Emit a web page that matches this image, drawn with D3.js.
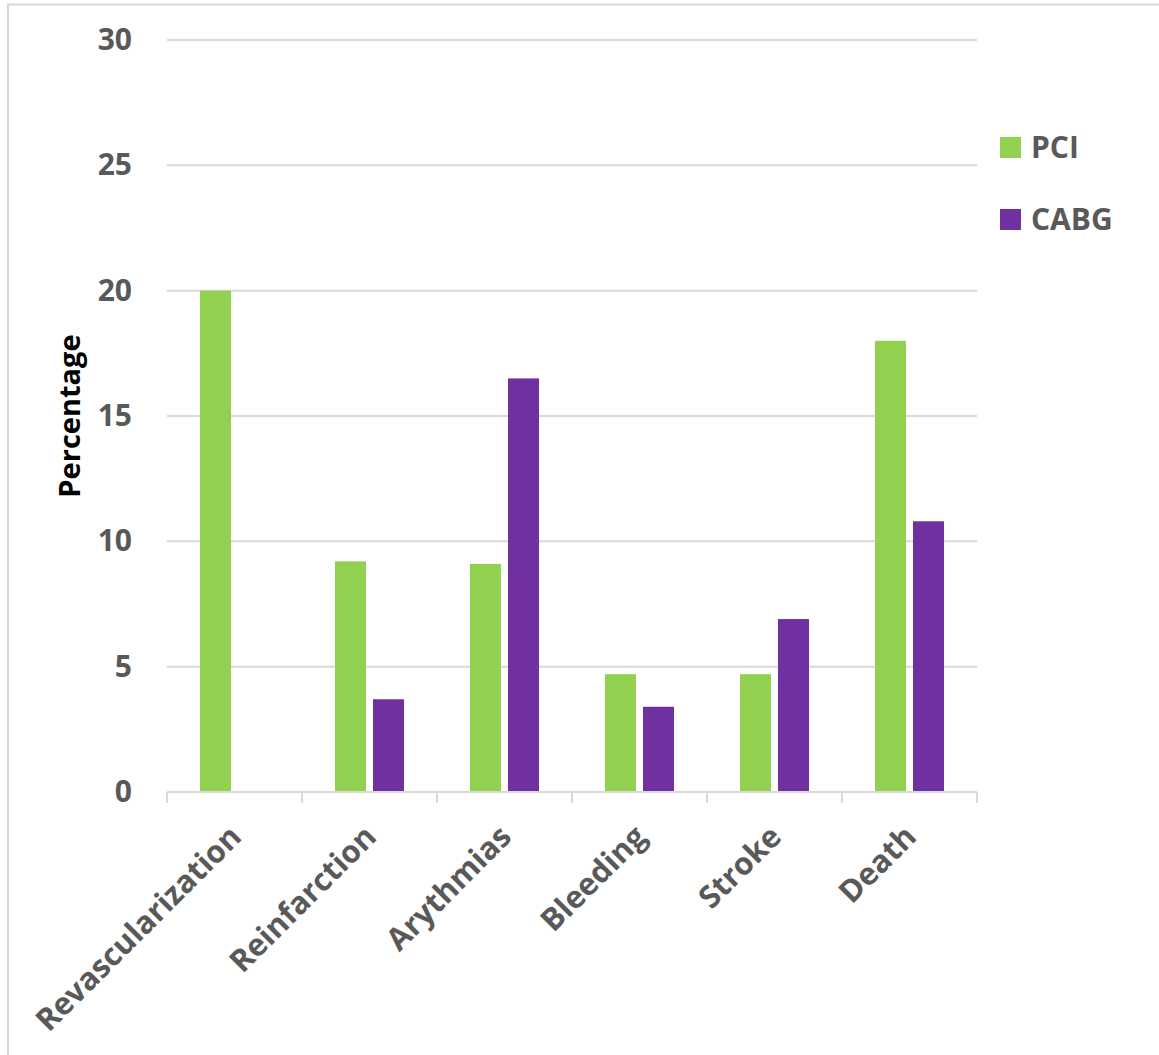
<!DOCTYPE html>
<html><head><meta charset="utf-8">
<script src="https://cdn.jsdelivr.net/npm/d3@7"></script>
<style>html,body{margin:0;padding:0;background:#fff;}</style>
</head><body>
<script>
const categories = ["Revascularization","Reinfarction","Arythmias","Bleeding","Stroke","Death"];
const seriesNames = ["PCI","CABG"];
const pciValues = [20, 9.2, 9.1, 4.7, 4.7, 18];
const cabgValues = [null, 3.7, 16.5, 3.4, 6.9, 10.8];
const yTicks = [0,5,10,15,20,25,30];
const colors = ["#92d050","#7030a0"];

(function(){
const W = 1159, H = 1055;
const pLeft = 167, pRight = 977, pTop = 40, pBottom = 792;
const txt = "#595959", font = "'Open Sans', sans-serif";

const svg = d3.select("body").append("svg").attr("width", W).attr("height", H);

// frame lines (top and left)
svg.append("line").attr("x1",7).attr("x2",W).attr("y1",4.5).attr("y2",4.5).attr("stroke","#d9d9d9").attr("stroke-width",2);
svg.append("line").attr("x1",8).attr("x2",8).attr("y1",4).attr("y2",H).attr("stroke","#d9d9d9").attr("stroke-width",2);

const x = d3.scaleBand().domain(categories).range([pLeft, pRight]).paddingInner(0).paddingOuter(0);
const x1 = d3.scaleBand().domain(seriesNames).range([0, x.bandwidth()]).paddingInner(0.184).paddingOuter(0.868);
const y = d3.scaleLinear().domain([0,30]).range([pBottom, pTop]);

// gridlines
svg.append("g").selectAll("line").data(yTicks.filter(d=>d>0)).join("line")
  .attr("x1",pLeft).attr("x2",pRight).attr("y1",d=>y(d)).attr("y2",d=>y(d))
  .attr("stroke","#d9d9d9").attr("stroke-width",2);

// y axis labels
const yAxis = d3.axisLeft(y).tickValues(yTicks).tickSize(0).tickPadding(35);
const yg = svg.append("g").attr("transform",`translate(${pLeft},0)`).call(yAxis);
yg.select(".domain").remove();
yg.selectAll("text").attr("fill",txt).attr("font-family",font).attr("font-weight","bold").attr("font-size",30);

// bars
const data = categories.map((c,i)=>({c, vals:[pciValues[i], cabgValues[i]]}));
const groups = svg.append("g").selectAll("g").data(data).join("g")
  .attr("transform", d=>`translate(${x(d.c)},0)`);
groups.selectAll("rect").data(d=>d.vals.map((v,j)=>({s:seriesNames[j], v, j})).filter(d=>d.v!=null))
  .join("rect")
  .attr("x", d=>x1(d.s)).attr("width", x1.bandwidth())
  .attr("y", d=>y(d.v)).attr("height", d=>y(0)-y(d.v))
  .attr("fill", d=>colors[d.j]);

// x axis
const xAxis = d3.axisBottom(x).tickSize(0).tickFormat("");
const xg = svg.append("g").attr("transform",`translate(0,${pBottom})`).call(xAxis);
xg.select(".domain").attr("stroke","#d9d9d9").attr("stroke-width",2).attr("d",`M${pLeft},0H${pRight}`);
const bounds = categories.map(c=>x(c)).concat([pRight]);
svg.append("g").selectAll("line").data(bounds).join("line")
  .attr("x1",d=>d).attr("x2",d=>d).attr("y1",pBottom).attr("y2",pBottom+11)
  .attr("stroke","#d9d9d9").attr("stroke-width",2);

// category labels rotated
svg.append("g").selectAll("text").data(categories).join("text")
  .attr("transform", d=>`translate(${x(d)+x.bandwidth()/2+1},${pBottom+39}) rotate(-45)`)
  .attr("text-anchor","end").attr("dy","0.35em")
  .attr("fill",txt).attr("font-family",font).attr("font-weight","bold").attr("font-size",31)
  .text(d=>d);

// y title
svg.append("text").attr("transform",`translate(80,${(pTop+pBottom)/2}) rotate(-90)`)
  .attr("text-anchor","middle").attr("fill","#000").attr("font-family",font)
  .attr("font-weight","bold").attr("font-size",29).text("Percentage");

// legend
const lg = svg.append("g").selectAll("g").data(seriesNames).join("g")
  .attr("transform",(d,i)=>`translate(1000,${137+i*72})`);
lg.append("rect").attr("width",21).attr("height",21).attr("fill",(d,i)=>colors[i]);
lg.append("text").attr("x",31).attr("y",21).attr("fill",txt).attr("font-family",font)
  .attr("font-weight","bold").attr("font-size",30).text(d=>d);
})();
</script>
</body></html>
